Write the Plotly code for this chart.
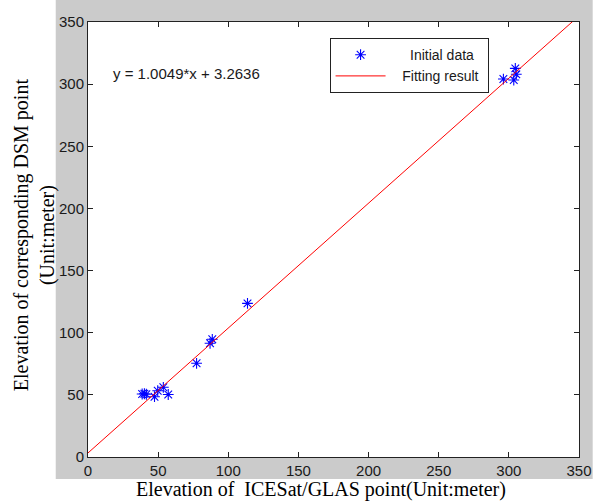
import plotly.graph_objects as go

# Data
icesat = [38.6, 40.2, 41.6, 47.4, 49.7, 53.7, 57.2, 77.4, 87.0, 88.6, 113.7, 296.1, 303.5, 304.6, 305.3]
dsm = [50.7, 50.9, 50.5, 48.5, 53.3, 56.1, 50.3, 75.4, 91.5, 94.7, 123.6, 304.1, 303.3, 312.7, 307.9]
slope = 1.0049
intercept = 3.2636
fit_x = [0, 350]
fit_y = [slope * v + intercept for v in fit_x]
tick_vals = [0, 50, 100, 150, 200, 250, 300, 350]

NB = "\u00a0"

fig = go.Figure()
fig.add_trace(go.Scatter(
    x=icesat, y=dsm, mode="markers",
    name=NB * 5 + "Initial data" + NB * 2,
    marker=dict(symbol="asterisk-open", size=9, color="blue",
                line=dict(color="blue", width=1.1)),
))
fig.add_trace(go.Scatter(
    x=fit_x, y=fit_y, mode="lines",
    name=NB * 3 + "Fitting result",
    line=dict(color="red", width=1),
))

axis_common = dict(
    range=[0, 350], tickvals=tick_vals, ticks="inside", ticklen=5,
    tickcolor="#222", showline=True, linecolor="#222", linewidth=1,
    mirror="ticks", showgrid=False, zeroline=False,
    tickfont=dict(family="Liberation Sans, Arial", size=15, color="#1a1a1a"),
)
fig.update_xaxes(**axis_common)
fig.update_yaxes(**axis_common)

fig.update_layout(
    width=604, height=501, autosize=False,
    margin=dict(l=88, r=14, t=22, b=44),
    paper_bgcolor="white", plot_bgcolor="white",
    showlegend=True,
    legend=dict(
        x=0.492, y=0.963, xanchor="left", yanchor="top",
        bgcolor="white", bordercolor="#222", borderwidth=1,
        font=dict(family="Liberation Sans, Arial", size=14, color="#1a1a1a"),
        itemwidth=50, tracegroupgap=0,
    ),
    shapes=[
        dict(type="rect", xref="paper", yref="paper", layer="below",
             x0=(55 - 88) / 502, x1=(604 - 88) / 502,
             y0=(457 - 479) / 435, y1=(457 - 0) / 435,
             fillcolor="#cbcbcb", line=dict(width=0)),
        dict(type="rect", xref="paper", yref="paper", layer="below",
             x0=0, x1=1, y0=0, y1=1,
             fillcolor="white", line=dict(width=0)),
    ],
    annotations=[
        dict(text="y = 1.0049*x + 3.2636", xref="paper", yref="paper",
             x=(112 - 88) / 502, y=(457 - 73) / 435, xanchor="left", yanchor="middle",
             showarrow=False,
             font=dict(family="Liberation Sans, Arial", size=15, color="#1a1a1a")),
        dict(text="Elevation of " + NB + "ICESat/GLAS point(Unit:meter)",
             xref="paper", yref="paper",
             x=(326 - 88) / 502, y=(457 - 490) / 435, xanchor="center", yanchor="middle",
             showarrow=False,
             font=dict(family="Liberation Serif, Times New Roman", size=20, color="black")),
        dict(text="Elevation of corresponding DSM point<br>(Unit:meter)",
             xref="paper", yref="paper", textangle=-90,
             x=(33 - 88) / 502, y=(457 - 235) / 435, xanchor="center", yanchor="middle",
             showarrow=False,
             font=dict(family="Liberation Serif, Times New Roman", size=20, color="black")),
    ],
)

post = "document.body.style.margin='0';"
fig.write_html("out.html", post_script=post, config={"displayModeBar": False})
